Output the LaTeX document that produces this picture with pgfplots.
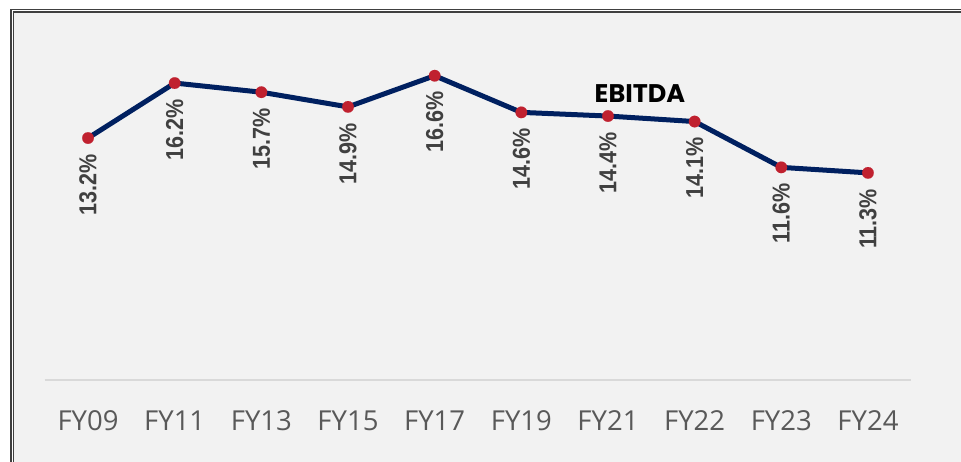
\documentclass[border=0pt]{standalone}
\usepackage{pgfplots}
\pgfplotsset{compat=1.18}
\usepackage{fontspec}
\setmainfont{Open Sans}
\newfontfamily\labfont[FakeStretch=0.88, BoldFeatures={FakeStretch=0.88}]{Liberation Sans}
\newfontfamily\titfont{Poppins}
\definecolor{bg}{HTML}{F2F2F2}
\definecolor{navy}{HTML}{002060}
\definecolor{dotred}{HTML}{C0212F}
\definecolor{labgray}{HTML}{404040}
\definecolor{tickgray}{HTML}{595959}
\definecolor{axgray}{HTML}{D9D9D9}
\definecolor{frame}{HTML}{404040}
\begin{document}
\begin{tikzpicture}[x=1pt,y=1pt]
\useasboundingbox (0,0) rectangle (961,461);
\fill[white] (0,0) rectangle (961,461);
\fill[bg] (13,-20) rectangle (990,449.5);
\draw[frame, line width=1.2pt] (11,-20) -- (11,451.8) -- (990,451.8);
\draw[frame, line width=1.2pt] (13.8,-20) -- (13.8,449) -- (990,449);
\begin{axis}[
  at={(44.7pt,81pt)}, anchor=south west,
  scale only axis, width=866.6pt, height=366.6pt,
  xmin=-0.5, xmax=9.5, ymin=0, ymax=20,
  axis x line*=bottom, axis y line=none,
  x axis line style={draw=axgray, line width=1.3pt, -},
  xtick={0,...,9},
  xticklabels={FY09,FY11,FY13,FY15,FY17,FY19,FY21,FY22,FY23,FY24},
  major tick length=0pt,
  xticklabel style={font=\fontsize{27.5}{30}\selectfont, text=tickgray, anchor=base, yshift=-50pt},
  clip=false,
  /pgf/number format/assume math mode=true,
  nodes near coords={\pgfmathprintnumber[fixed,precision=1,fixed zerofill,assume math mode=true]{\pgfplotspointmeta}\%},
  every node near coord/.append style={font=\labfont\bfseries\fontsize{24.5}{26}\selectfont, text=labgray, rotate=90, anchor=east, inner sep=0pt, outer xsep=16pt},
]
\addplot[navy, line width=5pt, mark=*, mark size=5.8pt, mark options={fill=dotred, draw=dotred, line width=0.1pt}]
  coordinates {(0,13.2) (1,16.2) (2,15.7) (3,14.9) (4,16.6) (5,14.6) (6,14.4) (7,14.1) (8,11.6) (9,11.3)};
\end{axis}
\node[font=\titfont\bfseries\fontsize{25.5}{28}\selectfont, text=black] at (640,367.5) {EBITDA};
\end{tikzpicture}
\end{document}
